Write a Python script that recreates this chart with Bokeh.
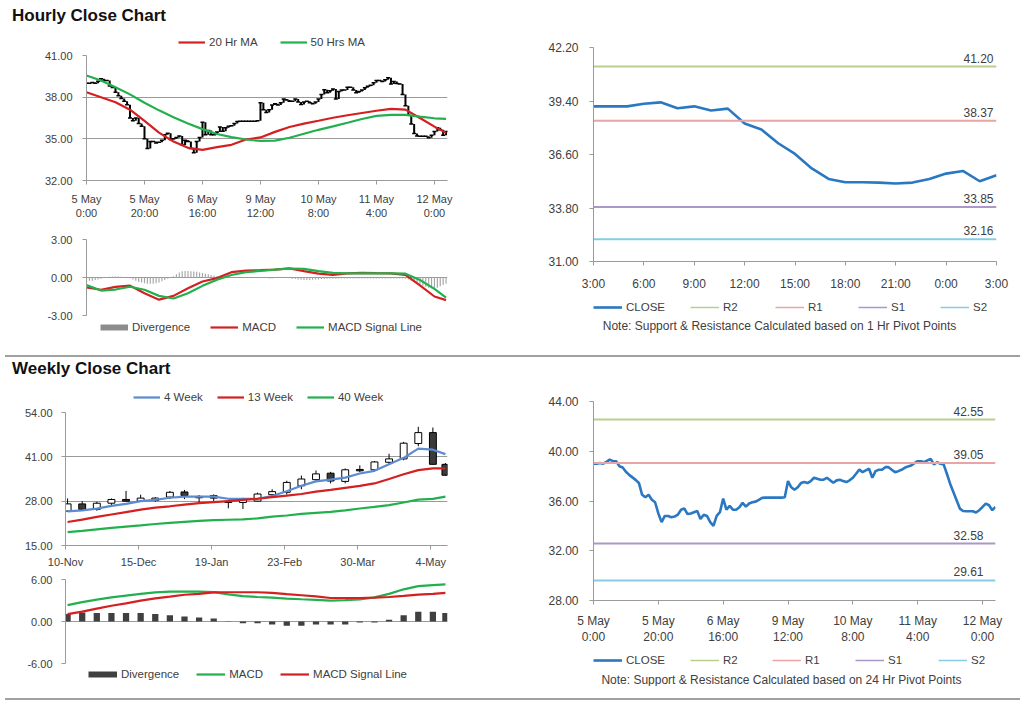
import pandas as pd
from bokeh.plotting import figure
from bokeh.models import (Range1d, FixedTicker, PrintfTickFormatter, Legend, LegendItem,
                          Div, ColumnDataSource, Label)
from bokeh.layouts import column, row
from bokeh.core.properties import value
from bokeh.embed import file_html
from bokeh.resources import INLINE

# ------------------------------------------------------------------ data
hourly_tick_labels = ["5 May\n0:00", "5 May\n20:00", "6 May\n16:00", "9 May\n12:00",
                      "10 May\n8:00", "11 May\n4:00", "12 May\n0:00"]
hourly_close = [39.0, 39.0, 39.05, 39.0, 39.15, 39.33, 39.2, 39.2, 38.8, 38.7,
                38.35, 38.1, 37.9, 37.7, 37.45, 36.5, 36.3, 36.5, 36.1, 35.9,
                35.0, 34.3, 34.8, 34.8, 34.7, 34.75, 34.9, 35.3, 35.4, 34.95,
                35.0, 35.1, 35.2, 34.55, 34.9, 34.8, 34.3, 34.0, 34.8, 35.1,
                36.2, 35.3, 35.6, 35.3, 35.3, 35.5, 35.85, 35.55, 35.8, 35.9,
                35.95, 36.1, 36.25, 36.27, 36.27, 36.27, 36.27, 36.27, 36.27, 36.3,
                37.6, 37.1, 36.9, 37.1, 37.44, 37.52, 37.44, 37.6, 37.87, 37.79,
                37.71, 37.71, 37.87, 37.66, 37.47, 37.66, 37.71, 37.6, 37.52, 37.66,
                37.87, 38.19, 38.54, 38.32, 38.46, 38.59, 37.87, 38.4, 38.51, 38.51,
                38.72, 38.72, 38.51, 38.32, 38.4, 38.51, 38.67, 38.78, 38.86, 39.04,
                39.2, 39.2, 39.12, 39.26, 39.39, 38.94, 39.12, 38.99, 38.94, 38.19,
                37.39, 36.72, 36.06, 35.39, 35.2, 35.18, 35.18, 35.18, 35.07, 35.26,
                35.52, 35.79, 35.66, 35.26, 35.52]
ma_bars = [0, 5, 10, 15, 20, 25, 30, 35, 40, 45, 50, 55, 60, 65, 70, 75, 80, 85,
           90, 95, 100, 105, 110, 115, 120, 124]
ma20 = [38.36, 38.0, 37.64, 37.1, 36.3, 35.45, 34.8, 34.35, 34.2, 34.4, 34.57, 34.95,
        35.1, 35.5, 35.85, 36.1, 36.3, 36.52, 36.7, 36.86, 37.02, 37.16, 37.1, 36.5,
        35.88, 35.43]
ma50 = [39.56, 39.2, 38.72, 38.2, 37.6, 37.05, 36.55, 36.1, 35.7, 35.35, 35.12, 34.95,
        34.85, 34.87, 35.08, 35.37, 35.65, 35.9, 36.16, 36.43, 36.65, 36.72, 36.73, 36.6,
        36.48, 36.44]
macd_hourly = [-0.79, -0.97, -0.74, -0.64, -1.25, -1.75, -1.45, -0.85, -0.32, -0.05,
               0.42, 0.55, 0.58, 0.62, 0.72, 0.5, 0.3, 0.2, 0.33, 0.36, 0.34, 0.33,
               0.2, -0.62, -1.5, -1.79]
signal_hourly = [-0.6, -1.03, -0.95, -0.73, -0.97, -1.45, -1.66, -1.25, -0.66, -0.18,
                 0.2, 0.42, 0.52, 0.62, 0.71, 0.68, 0.5, 0.36, 0.32, 0.32, 0.32, 0.32,
                 0.3, -0.2, -0.9, -1.58]
divergence_hourly = (
    [-0.2, -0.25, -0.25, -0.2, -0.15, -0.1, -0.02, 0.02]
    + [0.06, 0.08, 0.08, 0.08, 0.06, 0.04, 0.0, -0.05]
    + [-0.15, -0.25, -0.35, -0.4, -0.45, -0.5, -0.5, -0.5, -0.45, -0.4, -0.3, -0.2, -0.1]
    + [0.0, 0.1, 0.25]
    + [0.4, 0.5, 0.52, 0.52, 0.5, 0.48, 0.45, 0.4, 0.35, 0.3, 0.25, 0.2, 0.15]
    + [0.12, 0.1, 0.08, 0.05, 0.03, 0.02]
    + [0.0, 0.0, 0.0, 0.0, 0.0, 0.0, 0.0, 0.0, 0.0, 0.0, 0.0, 0.0]
    + [-0.08, -0.08]
    + [0.0, 0.0, 0.0, 0.0, 0.0, 0.0]
    + [-0.1, -0.12, -0.15, -0.18, -0.2, -0.2, -0.2, -0.18, -0.15, -0.15, -0.12, -0.12,
       -0.1, -0.1, -0.1, -0.1, -0.08, -0.08]
    + [-0.08, -0.08, -0.08, -0.08, -0.08, -0.08, -0.08, -0.08, -0.08, -0.08, -0.08,
       -0.08, -0.08, -0.08, -0.08, -0.08, -0.08, -0.08, -0.08, -0.08, -0.08]
    + [-0.1, -0.15, -0.25, -0.35, -0.45, -0.55, -0.65, -0.75, -0.8, -0.85, -0.85, -0.8,
       -0.7, -0.6, -0.5]
)

pivot1_tick_labels = ["3:00", "6:00", "9:00", "12:00", "15:00", "18:00", "21:00", "0:00", "3:00"]
pivot1_close = [39.12, 39.12, 39.12, 39.26, 39.33, 39.02, 39.12, 38.9, 39.0, 38.22,
                37.91, 37.19, 36.63, 35.87, 35.32, 35.15, 35.15, 35.13, 35.08, 35.13,
                35.32, 35.6, 35.74, 35.2, 35.51]
pivot_names = ["R2", "R1", "S1", "S2"]
pivot1_levels = [41.20, 38.37, 33.85, 32.16]
pivot24_levels = [42.55, 39.05, 32.58, 29.61]
note_1h = "Note: Support & Resistance Calculated based on 1 Hr Pivot Points"
note_24h = "Note: Support & Resistance Calculated based on 24 Hr Pivot Points"

week_axis = ["2010-11-10", "2011-05-12"]
week_tick_dates = ["2010-11-10", "2010-12-15", "2011-01-19", "2011-02-23", "2011-03-30", "2011-05-04"]
week_tick_labels = ["10-Nov", "15-Dec", "19-Jan", "23-Feb", "30-Mar", "4-May"]
week_dates = ["2010-11-11", "2010-11-18", "2010-11-25", "2010-12-02", "2010-12-09",
              "2010-12-16", "2010-12-23", "2010-12-30", "2011-01-06", "2011-01-13",
              "2011-01-20", "2011-01-27", "2011-02-03", "2011-02-10", "2011-02-17",
              "2011-02-24", "2011-03-03", "2011-03-10", "2011-03-17", "2011-03-24",
              "2011-03-31", "2011-04-07", "2011-04-14", "2011-04-21", "2011-04-28",
              "2011-05-05", "2011-05-11"]
w_open = [25.1, 27.2, 25.6, 27.4, 28.5, 28.0, 28.2, 29.2, 30.7, 29.4, 29.6, 28.0, 27.6,
          28.0, 29.9, 30.6, 32.5, 34.3, 36.2, 33.8, 37.3, 37.2, 39.4, 40.4, 44.9, 48.1, 38.8]
w_close = [27.2, 25.6, 27.4, 28.5, 28.0, 28.9, 28.9, 30.6, 29.6, 29.0, 28.9, 27.6, 28.6,
           30.1, 30.8, 33.5, 34.5, 36.0, 33.9, 37.2, 36.9, 39.5, 40.4, 45.0, 48.1, 38.8, 35.6]
w_high = [28.8, 28.0, 27.8, 28.8, 31.0, 29.9, 29.2, 31.0, 31.3, 29.8, 30.0, 28.2, 29.0,
          30.5, 31.5, 34.0, 35.5, 37.0, 36.6, 37.6, 38.5, 39.8, 41.9, 45.4, 49.8, 49.6, 39.2]
w_low = [25.0, 25.4, 25.2, 26.5, 27.8, 27.9, 27.8, 28.6, 28.6, 27.6, 27.8, 25.9, 25.7,
         27.9, 29.5, 29.9, 31.5, 33.7, 33.2, 33.2, 36.5, 36.6, 38.9, 40.0, 44.1, 38.7, 35.5]
ma_4w = [25.0, 25.3, 25.8, 26.6, 27.2, 28.0, 28.4, 29.0, 29.35, 29.35, 29.35, 28.7, 28.7,
         28.7, 29.5, 30.9, 32.5, 33.8, 34.3, 34.9, 36.1, 36.9, 38.8, 40.7, 43.4, 43.1, 41.8]
ma_13w = [21.9, 22.6, 23.4, 24.1, 24.8, 25.5, 26.1, 26.5, 27.0, 27.4, 27.7, 28.0, 28.4,
          28.7, 29.2, 29.6, 30.1, 30.8, 31.3, 31.9, 32.5, 33.2, 34.5, 35.9, 37.1, 37.6, 37.6]
ma_40w = [18.9, 19.3, 19.75, 20.15, 20.55, 20.9, 21.3, 21.65, 21.95, 22.2, 22.45, 22.55,
          22.65, 22.95, 23.45, 23.8, 24.25, 24.55, 24.85, 25.3, 25.85, 26.3, 26.85, 27.6,
          28.45, 28.67, 29.35]
macd_weekly = [2.35, 2.77, 3.13, 3.45, 3.7, 3.95, 4.15, 4.27, 4.27, 4.27, 4.2, 3.88, 3.62,
               3.5, 3.4, 3.27, 3.18, 3.1, 2.98, 3.05, 3.15, 3.45, 3.95, 4.6, 5.05, 5.2, 5.3]
signal_weekly = [1.06, 1.4, 1.83, 2.25, 2.6, 2.98, 3.3, 3.55, 3.82, 3.95, 4.15, 4.18, 4.18,
                 4.18, 4.1, 3.9, 3.75, 3.58, 3.36, 3.36, 3.36, 3.42, 3.5, 3.65, 3.85, 3.95, 4.1]
divergence_weekly = [1.06, 1.3, 1.2, 1.2, 1.2, 1.2, 1.06, 0.91, 0.72, 0.58, 0.43, 0.05,
                     -0.24, -0.24, -0.43, -0.62, -0.62, -0.43, -0.43, -0.43, -0.14, -0.14,
                     0.24, 0.91, 1.39, 1.39, 1.2]

# ------------------------------------------------------------------ style
FONT = "Liberation Sans"
TXT = "#404040"
GRID = "#9a9a9a"
RED = "#d42020"
GREEN = "#22b04e"
BLUE = "#2b78c2"
BLUE4 = "#5b8bd0"
PIVOT_COLORS = ["#b8d08c", "#e9a5a5", "#ab97c8", "#86cde4"]
NAN = float("nan")


def chart(w, h, bl, br, bt, bb, xr, yr, x_axis=True, tick_size="11px"):
    p = figure(width=w, height=h, x_range=xr, y_range=yr,
               min_border_left=bl, min_border_right=br, min_border_top=bt,
               min_border_bottom=bb, toolbar_location=None, tools="",
               output_backend="svg", title=None,
               x_axis_location="below" if x_axis else None)
    p.outline_line_color = None
    p.background_fill_color = "white"
    p.border_fill_color = "white"
    p.xgrid.visible = False
    p.ygrid.grid_line_color = GRID
    for ax in p.axis:
        ax.axis_line_color = GRID
        ax.major_tick_line_color = GRID
        ax.minor_tick_line_color = None
        ax.major_tick_in = 0
        ax.major_tick_out = 4
        ax.major_label_text_font = FONT
        ax.major_label_text_font_size = tick_size
        ax.major_label_text_color = TXT
    p.yaxis.formatter = PrintfTickFormatter(format="%.2f")
    return p


def set_xticks(p, positions, labels, standoff):
    p.xaxis.ticker = FixedTicker(ticks=positions)
    p.xaxis.major_label_overrides = {k: v for k, v in zip(positions, labels)}
    p.xaxis.major_label_standoff = standoff


def canvas(w, h, bl, br):
    """A blank strip whose frame lines up with the chart above/below it."""
    fw = w - bl - br
    c = figure(width=w, height=h, x_range=Range1d(0, fw), y_range=Range1d(h, 0),
               min_border_left=bl, min_border_right=br, min_border_top=0,
               min_border_bottom=0, toolbar_location=None, tools="",
               output_backend="svg", title=None, x_axis_location=None,
               y_axis_location=None)
    c.outline_line_color = None
    c.background_fill_color = "white"
    c.border_fill_color = "white"
    c.xgrid.visible = False
    c.ygrid.visible = False
    c.grid.grid_line_color = None
    return c


def add_legend(c, entries, loc, spacing, glyph_w=27, lh=12):
    """entries: list of (label, line_color, line_width)"""
    items = []
    for label, col, lw in entries:
        r = c.line(x=[NAN], y=[NAN], line_color=col, line_width=lw)
        items.append(LegendItem(label=label, renderers=[r]))
    leg = Legend(items=items, orientation="horizontal", location=loc,
                 border_line_color=None, background_fill_alpha=0,
                 label_text_font=FONT, label_text_font_size="11.5px",
                 label_text_color=TXT, glyph_width=glyph_w, glyph_height=lh,
                 label_height=lh, label_standoff=4, spacing=spacing,
                 margin=0, padding=0)
    c.add_layout(leg)


def title_div(text, w, h, pad_top):
    html = ('<div style="font-family:\'Liberation Sans\',Arial,sans-serif;font-weight:bold;'
            f'font-size:17px;color:#111;padding:{pad_top}px 0 0 12px;line-height:16px;'
            f'white-space:nowrap;">{text}</div>')
    return Div(text=html, width=w, height=h, margin=(0, 0, 0, 0))


def sep_div(w, h):
    html = (f'<div style="height:{h - 2}px;width:{w - 9}px;margin-left:5px;'
            'border-bottom:2px solid #a0a0a0;"></div>')
    return Div(text=html, width=w, height=h, margin=(0, 0, 0, 0))


# ------------------------------------------------------------------ A: hourly close
n = len(hourly_close)
bars = list(range(n))
hourly_pos = [20 * i for i in range(len(hourly_tick_labels))]

legA = canvas(480, 21, 86, 33)
add_legend(legA, [("20 Hr MA", RED, 2.2), ("50 Hrs MA", GREEN, 2.2)], (92, 1), 22)

figA = chart(480, 179, 86, 33, 6, 48, Range1d(0, 124.5), Range1d(32, 41))
figA.yaxis.ticker = FixedTicker(ticks=[32, 35, 38, 41])
figA.yaxis.major_label_standoff = 10
set_xticks(figA, hourly_pos, hourly_tick_labels, 8)
opens = [hourly_close[0]] + hourly_close[:-1]
srcA = ColumnDataSource(dict(x=bars, o=opens, c=hourly_close))
figA.segment(x0="x", y0="o", x1="x", y1="c", source=srcA, line_color="black", line_width=2)
figA.scatter(x="x", y="c", source=srcA, marker="dash", size=4, line_color="black", line_width=1.5)
figA.line(ma_bars, ma20, line_color=RED, line_width=2.2)
figA.line(ma_bars, ma50, line_color=GREEN, line_width=2.2)

# ------------------------------------------------------------------ B: hourly MACD
figB = chart(480, 93, 86, 33, 11, 6, Range1d(0, 124.5), Range1d(-3, 3), x_axis=False)
figB.yaxis.ticker = FixedTicker(ticks=[-3, 0, 3])
figB.yaxis.major_label_standoff = 10
figB.vbar(x=bars, top=divergence_hourly, width=0.4, fill_color="#a6a6a6", line_color=None)
figB.line(ma_bars, macd_hourly, line_color=RED, line_width=2.2)
figB.line(ma_bars, signal_hourly, line_color=GREEN, line_width=2.2)

legB = canvas(480, 24, 86, 33)
add_legend(legB, [("Divergence", "#8c8c8c", 6), ("MACD", RED, 2.2),
                  ("MACD Signal Line", GREEN, 2.2)], (14, 12), 20, glyph_w=28, lh=12)


# ------------------------------------------------------------------ pivot charts
def pivot_chart(w, h, bl, br, bt, bb, xr, yr, yticks, xpos, xlabels, xs, close,
                levels, label_dx, x_standoff):
    p = chart(w, h, bl, br, bt, bb, xr, yr, tick_size="12px")
    p.ygrid.visible = False
    p.yaxis.ticker = FixedTicker(ticks=yticks)
    p.yaxis.major_label_standoff = 11
    set_xticks(p, xpos, xlabels, x_standoff)
    p.line(xs, close, line_color=BLUE, line_width=2.6)
    x0, x1 = xr.start, xr.end
    for lv, col in zip(levels, PIVOT_COLORS):
        p.line([x0, x1], [lv, lv], line_color=col, line_width=2)
    p.text(x=[x1] * len(levels), y=levels, text=[f"{v:.2f}" for v in levels],
           text_align="right", text_baseline="bottom", x_offset=label_dx, y_offset=-4,
           text_font_size="12px", text_color=TXT, text_font=value(FONT))
    return p


def pivot_legend(w, h, bl, br, lefts, vy, note, note_x, note_y):
    c = canvas(w, h, bl, br)
    entries = [("CLOSE", BLUE, 2.6)] + [(nm, col, 1.5) for nm, col in zip(pivot_names, PIVOT_COLORS)]
    for (label, col, lw), lx in zip(entries, lefts):
        add_legend(c, [(label, col, lw)], (lx, vy), 0, glyph_w=29)
    c.add_layout(Label(x=note_x, y=note_y, text=note, text_align="center",
                       text_baseline="middle", text_font=FONT, text_font_size="12px",
                       text_color=TXT))
    return c


p1_x = list(range(len(pivot1_close)))
figC = pivot_chart(544, 265, 113, 28, 19, 30, Range1d(0, 24), Range1d(31, 42.2),
                   [31, 33.8, 36.6, 39.4, 42.2], [3 * i for i in range(len(pivot1_tick_labels))],
                   pivot1_tick_labels, p1_x, pivot1_close, pivot1_levels, -3, 11)
legC = pivot_legend(544, 52, 113, 28, [0, 97, 182, 265, 347], 32, note_1h, 186, 32)

figF = pivot_chart(544, 267, 113, 29, 21, 46, Range1d(0, 124), Range1d(28, 44),
                   [28, 32, 36, 40, 44], hourly_pos, hourly_tick_labels, bars, hourly_close,
                   pivot24_levels, -12, 9)
legF = pivot_legend(544, 39, 113, 29, [0, 97, 179, 262, 345], 20, note_24h, 188, 32)

# ------------------------------------------------------------------ D: weekly close
t0 = pd.Timestamp(week_axis[0])
day = lambda s: (pd.Timestamp(s) - t0).days
wx = [day(d) for d in week_dates]
wend = day(week_axis[1])
wtick = [day(d) for d in week_tick_dates]

legD = canvas(480, 24, 65, 33)
add_legend(legD, [("4 Week", BLUE4, 2.2), ("13 Week", RED, 2.2), ("40 Week", GREEN, 2.2)],
           (68, 1), 14)

figD = chart(480, 166, 65, 33, 8, 24, Range1d(0, wend), Range1d(15, 54))
figD.yaxis.ticker = FixedTicker(ticks=[15, 28, 41, 54])
figD.yaxis.major_label_standoff = 9
set_xticks(figD, wtick, week_tick_labels, 6)
body_top = [max(o, c) for o, c in zip(w_open, w_close)]
body_bot = [min(o, c) for o, c in zip(w_open, w_close)]
body_fill = ["white" if c >= o else "#3a3a3a" for o, c in zip(w_open, w_close)]
srcD = ColumnDataSource(dict(x=wx, hi=w_high, lo=w_low, top=body_top, bot=body_bot, fill=body_fill))
figD.segment(x0="x", y0="lo", x1="x", y1="hi", source=srcD, line_color="black", line_width=1)
figD.vbar(x="x", top="top", bottom="bot", width=3.3, source=srcD, fill_color="fill",
          line_color="black", line_width=1)
figD.line(wx, ma_4w, line_color=BLUE4, line_width=2.2)
figD.line(wx, ma_13w, line_color=RED, line_width=2.2)
figD.line(wx, ma_40w, line_color=GREEN, line_width=2.2)

# ------------------------------------------------------------------ E: weekly MACD
figE = chart(480, 98, 65, 33, 9, 5, Range1d(0, wend), Range1d(-6, 6), x_axis=False)
figE.yaxis.ticker = FixedTicker(ticks=[-6, 0, 6])
figE.yaxis.major_label_standoff = 9
figE.vbar(x=wx, top=divergence_weekly, width=3, fill_color="#404040", line_color=None)
figE.line(wx, macd_weekly, line_color=GREEN, line_width=2.2)
figE.line(wx, signal_weekly, line_color=RED, line_width=2.2)

legE = canvas(480, 18, 65, 33)
add_legend(legE, [("Divergence", "#404040", 6), ("MACD", GREEN, 2.2),
                  ("MACD Signal Line", RED, 2.2)], (23, 6), 17, glyph_w=29, lh=12)

# ------------------------------------------------------------------ layout
layout = column(
    title_div("Hourly Close Chart", 1024, 28, 8),
    row(column(legA, figA, figB, legB, spacing=0), column(figC, legC, spacing=0), spacing=0),
    sep_div(1024, 9),
    title_div("Weekly Close Chart", 1024, 26, 7),
    row(column(legD, figD, figE, legE, spacing=0), column(figF, legF, spacing=0), spacing=0),
    sep_div(1024, 16),
    spacing=0,
)

open("out.html", "w").write(file_html(layout, INLINE))
